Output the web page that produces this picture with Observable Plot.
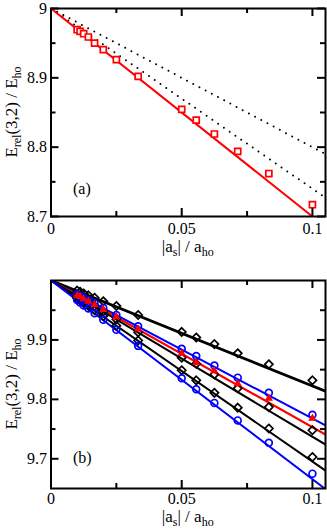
<!DOCTYPE html>
<html>
<head>
<meta charset="utf-8">
<script src="https://cdn.jsdelivr.net/npm/d3@7"></script>
<script src="https://cdn.jsdelivr.net/npm/@observablehq/plot@0.6"></script>
<style>
  html, body { margin: 0; padding: 0; background: #fff; }
  #chart svg { display: block; }
</style>
</head>
<body>
<div id="chart"></div>
<script>
// ---------- data ----------
// |a_s| / a_ho values of the computed points (1/100 ... 1/10)
const xVals = [0.01, 0.01111, 0.0125, 0.01429, 0.01667, 0.02, 0.025, 0.03333, 0.05, 0.05556, 0.0625, 0.07143, 0.08333, 0.1];

// panel (a)
const aRedSquares = [8.9694, 8.967, 8.9636, 8.9589, 8.950, 8.9407, 8.9263, 8.902, 8.8545, 8.839, 8.819, 8.794, 8.762, 8.717];
const aRedLineX = [0, 0.1];
const aRedLineY = [9, 8.7];
const aDotLineX = [0, 0.105];
const aDotUpperY = [9, 8.79];
const aDotLowerY = [9, 8.727];

// panel (b)
const bBlackTop   = [9.983, 9.981, 9.978, 9.975, 9.971, 9.965, 9.957, 9.942, 9.9135, 9.904, 9.893, 9.8775, 9.859, 9.832];
const bBlueUpper  = [9.977, 9.974, 9.971, 9.967, 9.962, 9.954, 9.942, 9.923, 9.885, 9.873, 9.857, 9.8365, 9.811, 9.774];
const bRed        = [9.975, 9.973, 9.969, 9.965, 9.959, 9.951, 9.939, 9.918, 9.8776, 9.8618, 9.848, 9.8264, 9.8017, 9.768];
const bBlackMid   = [9.974, 9.971, 9.967, 9.963, 9.957, 9.948, 9.935, 9.913, 9.870, 9.860, 9.842, 9.8186, 9.787, 9.748];
const bBlackLow   = [9.970, 9.966, 9.962, 9.957, 9.950, 9.940, 9.924, 9.899, 9.849, 9.832, 9.811, 9.786, 9.751, 9.703];
const bBlueLow    = [9.967, 9.963, 9.958, 9.953, 9.945, 9.934, 9.917, 9.890, 9.8355, 9.817, 9.794, 9.7646, 9.727, 9.675];
const bLineX = [0, 0.105];
const bLineBlackTopY  = [10, 9.8136];
const bLineBlueUpperY = [10, 9.756];
const bLineRedY       = [10, 9.741];
const bLineBlackMidY  = [10, 9.724];
const bLineBlackLowY  = [10, 9.680];
const bLineBlueLowY   = [10, 9.649];

// ticks
const xMajor = [0, 0.05, 0.1];
const xMinor = [0.025, 0.075];
const xTickLabels = ["0", "0.05", "0.1"];
const aYMajor = [8.7, 8.8, 8.9, 9];
const aYMinor = [8.75, 8.85, 8.95];
const aYTickLabels = ["8.7", "8.8", "8.9", "9"];
const bYMajor = [9.7, 9.8, 9.9];
const bYMinor = [9.75, 9.85, 9.95];
const bYTickLabels = ["9.7", "9.8", "9.9"];

// ---------- helpers ----------
const W = 327, ML = 50.5, MR = 2, PH = 208;
const PW = W - ML - MR;
const FONT = "'Liberation Serif', 'Times New Roman', serif";

function pts(xs, ys) { return xs.map((x, i) => ({x, y: ys[i]})); }
function labelMap(vals, labels) { const m = new Map(vals.map((v, i) => [v, labels[i]])); return d => m.get(d); }

function tickMarks(xMaj, xMin, yMaj, yMin) {
  const maj = 8, min = 5, sw = 2;
  return [
    Plot.ruleX(xMaj, {insetTop: PH - maj, strokeWidth: sw}),
    Plot.ruleX(xMaj, {insetBottom: PH - maj, strokeWidth: sw}),
    Plot.ruleX(xMin, {insetTop: PH - min, strokeWidth: sw}),
    Plot.ruleX(xMin, {insetBottom: PH - min, strokeWidth: sw}),
    Plot.ruleY(yMaj, {insetRight: PW - maj, strokeWidth: sw}),
    Plot.ruleY(yMaj, {insetLeft: PW - maj, strokeWidth: sw}),
    Plot.ruleY(yMin, {insetRight: PW - min, strokeWidth: sw}),
    Plot.ruleY(yMin, {insetLeft: PW - min, strokeWidth: sw})
  ];
}

function addTitles(svg, yCenter, xBaseline) {
  const s = d3.select(svg);
  const yt = s.append("text")
    .attr("transform", `translate(17,${yCenter}) rotate(-90)`)
    .attr("text-anchor", "middle")
    .attr("font-family", FONT).attr("font-size", 17).attr("fill", "black");
  yt.append("tspan").text("E");
  yt.append("tspan").attr("dy", 4).attr("font-size", 12).text("rel");
  yt.append("tspan").attr("dy", -4).text("(3,2) / E");
  yt.append("tspan").attr("dy", 4).attr("font-size", 12).text("ho");

  const xt = s.append("text")
    .attr("x", ML + PW / 2).attr("y", xBaseline)
    .attr("text-anchor", "middle")
    .attr("font-family", FONT).attr("font-size", 17).attr("fill", "black");
  xt.append("tspan").text("|a");
  xt.append("tspan").attr("dy", 4).attr("font-size", 12).text("s");
  xt.append("tspan").attr("dy", -4).text("| / a");
  xt.append("tspan").attr("dy", 4).attr("font-size", 12).text("ho");
}

const style = {fontFamily: FONT, fontSize: "16px", background: "white", color: "black", overflow: "visible"};

// ---------- panel (a) ----------
const plotA = Plot.plot({
  width: W, height: 260,
  marginLeft: ML, marginRight: MR, marginTop: 8, marginBottom: 44,
  x: {domain: [0, 0.105]},
  y: {domain: [8.7, 9]},
  style,
  marks: [
    Plot.line(pts(aDotLineX, aDotUpperY), {x: "x", y: "y", stroke: "black", strokeWidth: 2, strokeDasharray: "0,7", strokeLinecap: "round", clip: true}),
    Plot.line(pts(aDotLineX, aDotLowerY), {x: "x", y: "y", stroke: "black", strokeWidth: 2, strokeDasharray: "0,7", strokeLinecap: "round", clip: true}),
    Plot.line(pts(aRedLineX, aRedLineY), {x: "x", y: "y", stroke: "#ff0000", strokeWidth: 2, clip: true}),
    Plot.dot(pts(xVals, aRedSquares), {x: "x", y: "y", symbol: "square", r: 3.4, stroke: "#ff0000", strokeWidth: 1.7, fill: "white"}),
    ...tickMarks(xMajor, xMinor, aYMajor, aYMinor),
    Plot.frame({strokeWidth: 2}),
    Plot.axisX(xMajor, {tickSize: 0, tickPadding: 6, fontSize: 16, tickFormat: labelMap(xMajor, xTickLabels), label: null}),
    Plot.axisY(aYMajor, {tickSize: 0, tickPadding: 4, fontSize: 16, tickFormat: labelMap(aYMajor, aYTickLabels), label: null}),
    Plot.text(["(a)"], {frameAnchor: "bottom-left", dx: 22, dy: -23, fontSize: 16, textAnchor: "start", fill: "black"})
  ]
});
addTitles(plotA, 8 + PH / 2, 252);

// ---------- panel (b) ----------
const lineStyleB = (xs, ys, color, sw) => Plot.line(pts(xs, ys), {x: "x", y: "y", stroke: color, strokeWidth: sw, clip: true});
const plotB = Plot.plot({
  width: W, height: 270,
  marginLeft: ML, marginRight: MR, marginTop: 20, marginBottom: 42,
  x: {domain: [0, 0.105]},
  y: {domain: [9.65, 10]},
  style,
  marks: [
    lineStyleB(bLineX, bLineBlackTopY, "black", 2.8),
    lineStyleB(bLineX, bLineBlueUpperY, "#0000ff", 2),
    lineStyleB(bLineX, bLineRedY, "#ff0000", 2.2),
    lineStyleB(bLineX, bLineBlackMidY, "black", 2),
    lineStyleB(bLineX, bLineBlackLowY, "black", 2),
    lineStyleB(bLineX, bLineBlueLowY, "#0000ff", 2),
    Plot.dot(pts(xVals, bBlackTop), {x: "x", y: "y", symbol: "diamond2", r: 3.7, stroke: "black", strokeWidth: 1.7, clip: true}),
    Plot.dot(pts(xVals, bBlackMid), {x: "x", y: "y", symbol: "diamond2", r: 3.7, stroke: "black", strokeWidth: 1.7, clip: true}),
    Plot.dot(pts(xVals, bBlackLow), {x: "x", y: "y", symbol: "diamond2", r: 3.7, stroke: "black", strokeWidth: 1.7, clip: true}),
    Plot.dot(pts(xVals, bBlueUpper), {x: "x", y: "y", symbol: "circle", r: 3.4, stroke: "#0000ff", strokeWidth: 1.7, clip: true}),
    Plot.dot(pts(xVals, bBlueLow), {x: "x", y: "y", symbol: "circle", r: 3.4, stroke: "#0000ff", strokeWidth: 1.7, clip: true}),
    Plot.dot(pts(xVals, bRed), {x: "x", y: "y", symbol: "triangle", r: 2.3, stroke: "#ff0000", fill: "#ff0000", strokeWidth: 1.2, clip: true}),
    ...tickMarks(xMajor, xMinor, bYMajor, bYMinor),
    Plot.frame({strokeWidth: 2}),
    Plot.axisX(xMajor, {tickSize: 0, tickPadding: 4, fontSize: 16, tickFormat: labelMap(xMajor, xTickLabels), label: null}),
    Plot.axisY(bYMajor, {tickSize: 0, tickPadding: 4, fontSize: 16, tickFormat: labelMap(bYMajor, bYTickLabels), label: null}),
    Plot.text(["(b)"], {frameAnchor: "bottom-left", dx: 22, dy: -26, fontSize: 16, textAnchor: "start", fill: "black"})
  ]
});
addTitles(plotB, 20 + PH / 2, 261.5);

document.getElementById("chart").append(plotA, plotB);
</script>
</body>
</html>
